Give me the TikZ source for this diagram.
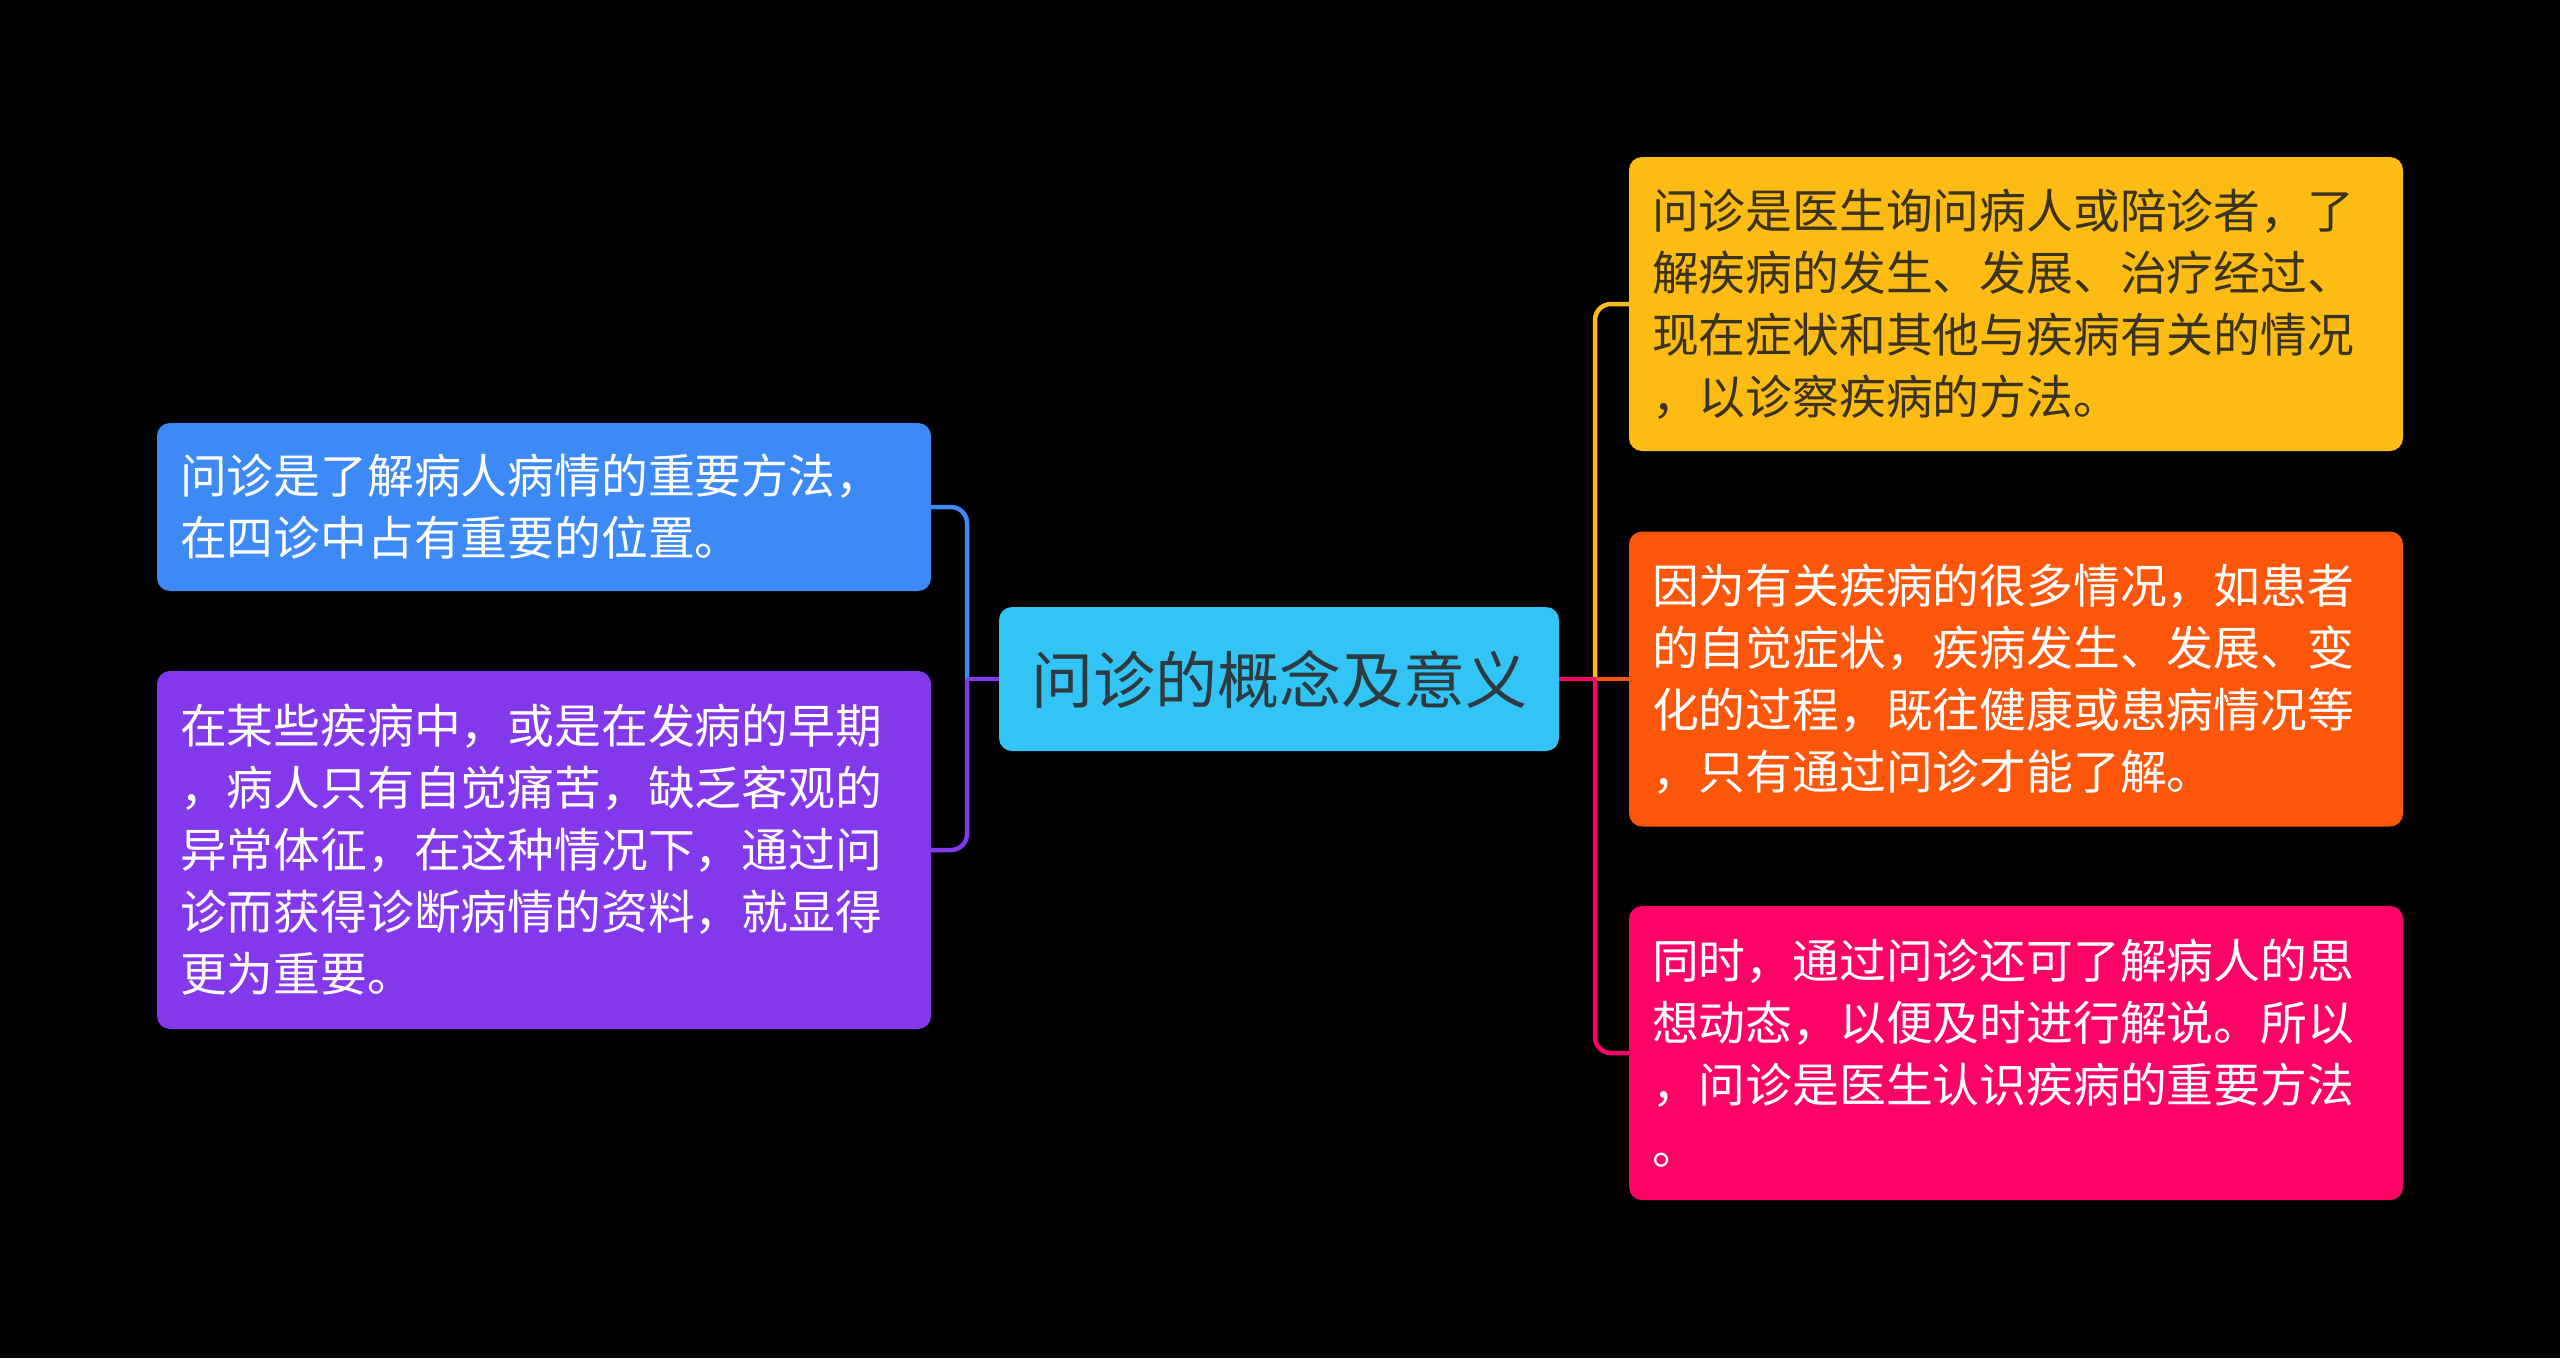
\documentclass[tikz,border=0pt]{standalone}
\usepackage{fontspec}
\setmainfont{Noto Sans CJK SC}
\definecolor{cblue}{HTML}{3D8AF7}
\definecolor{cpurple}{HTML}{8338EC}
\definecolor{ccyan}{HTML}{31C4F4}
\definecolor{cyellow}{HTML}{FCBC14}
\definecolor{corange}{HTML}{FC560A}
\definecolor{cpink}{HTML}{FC0466}
\definecolor{cdark}{HTML}{2E3A3F}
\definecolor{cydark}{HTML}{3A3320}
\begin{document}
\begin{tikzpicture}[x=1pt,y=-1pt,
  box/.style={rounded corners=13pt, text width=728pt, inner xsep=23pt, inner ysep=0pt,
    align=left, font=\fontsize{46.8}{62}\selectfont, anchor=center},
  conn/.style={line width=4.5pt, rounded corners=16pt}]
\fill[black] (0,0) rectangle (2560,1358);
\useasboundingbox (0,0) rectangle (2560,1358);

\node[box, fill=cblue, text=white, minimum height=168pt] (n1) at (544,507)
  {问诊是了解病人病情的重要方法，\\在四诊中占有重要的位置。};
\node[box, fill=cpurple, text=white, minimum height=358pt] (n2) at (544,850)
  {在某些疾病中，或是在发病的早期\\，病人只有自觉痛苦，缺乏客观的\\异常体征，在这种情况下，通过问\\诊而获得诊断病情的资料，就显得\\更为重要。};
\node[fill=ccyan, rounded corners=13pt, minimum width=560pt, minimum height=144pt,
  inner sep=0pt, text=cdark, font=\fontsize{62}{70}\selectfont] (c) at (1279,679) {问诊的概念及意义};
\node[box, fill=cyellow, text=cydark, minimum height=294pt] (n3) at (2016,304)
  {问诊是医生询问病人或陪诊者，了\\解疾病的发生、发展、治疗经过、\\现在症状和其他与疾病有关的情况\\，以诊察疾病的方法。};
\node[box, fill=corange, text=white, minimum height=295pt] (n4) at (2016,679)
  {因为有关疾病的很多情况，如患者\\的自觉症状，疾病发生、发展、变\\化的过程，既往健康或患病情况等\\，只有通过问诊才能了解。};
\node[box, fill=cpink, text=white, minimum height=294pt] (n5) at (2016,1053)
  {同时，通过问诊还可了解病人的思\\想动态，以便及时进行解说。所以\\，问诊是医生认识疾病的重要方法\\。};

\coordinate (jl) at (967,679);
\coordinate (jr) at (1595,679);

\draw[conn, cblue] (jl) |- (n1.east);
\draw[conn, cpurple, sharp corners] (c.west) -- (jl);
\draw[conn, cpurple] (jl) |- (n2.east);

\draw[conn, cyellow] (jr) |- (n3.west);
\draw[conn, corange, sharp corners] (c.east) -- (n4.west);
\draw[conn, cpink, sharp corners] (c.east) -- (jr);
\draw[conn, cpink] (jr) |- (n5.west);
\end{tikzpicture}
\end{document}
